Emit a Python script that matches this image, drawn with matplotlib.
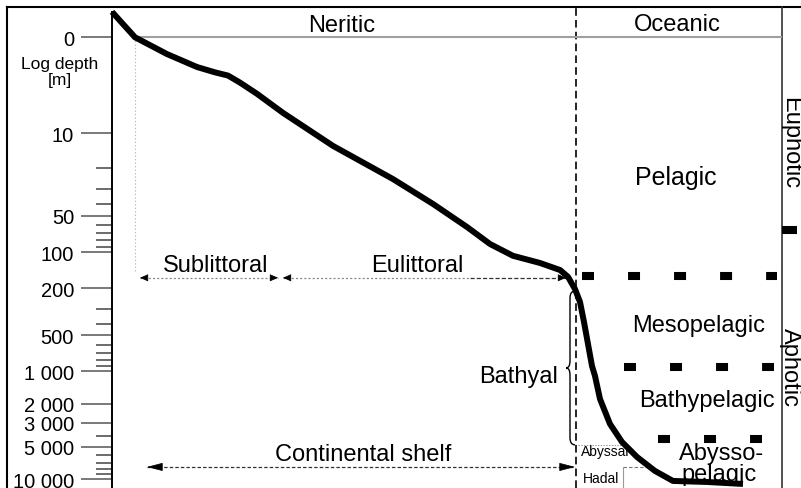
import numpy as np
import matplotlib.pyplot as plt
import matplotlib.transforms as mtransforms
from matplotlib.path import Path
from matplotlib.patches import PathPatch

plt.rcParams['font.family'] = ['Liberation Sans', 'DejaVu Sans']
plt.rcParams['lines.scale_dashes'] = False

# seabed profile: offshore distance (arbitrary units) vs depth in m (negative = above sea level)
profile_x = [112, 135, 167, 197, 215, 228, 240, 257, 283, 333, 393, 433, 467, 490, 513,
             540, 560, 568, 575, 580, 584, 592, 595, 600, 610, 622, 637, 655, 673, 707, 743]
profile_depth = [-0.47, 0, 0.52, 1.1, 1.4, 1.6, 2.1, 3.1, 5.6, 12.9, 24.8, 40, 62, 85.5, 107,
                 123, 141, 161, 204, 262, 386, 902, 1104, 1805, 3076, 4516, 6218, 8375,
                 10368, 10592, 11054]

tick_depths = [0, 10, 50, 100, 200, 500, 1000, 2000, 3000, 5000, 10000]
tick_labels = ['0', '10', '50', '100', '200', '500', '1 000', '2 000', '3 000', '5 000', '10 000']
minor_depths = [20, 30, 40, 60, 70, 80, 90, 300, 400, 600, 700, 800, 900,
                4000, 6000, 7000, 8000, 9000]

euphotic_limit = 66
pelagic_limits = [158, 920, 4230]
bathyal_range = (212, 4800)
littoral_depth = 164
shelf_arrow_depth = 7690
shelf_break_x = 576

# hand-drawn pseudo-log depth axis: piecewise linear in log10(d + 1)
L_KNOTS = np.log10(np.array([0, 10, 100, 1000, 10000]) + 1.0)
U_KNOTS = np.array([0, 0.807, 1.807, 2.807, 3.714])


def _interp(x, xp, fp):
    y = np.interp(x, xp, fp)
    lo = (fp[1] - fp[0]) / (xp[1] - xp[0])
    hi = (fp[-1] - fp[-2]) / (xp[-1] - xp[-2])
    y = np.where(x < xp[0], fp[0] + (x - xp[0]) * lo, y)
    return np.where(x > xp[-1], fp[-1] + (x - xp[-1]) * hi, y)


def fwd(d):
    lg = np.log10(np.maximum(np.asarray(d, float) + 1, 1e-9))
    return _interp(lg, L_KNOTS, U_KNOTS)


def inv(u):
    return 10 ** _interp(np.asarray(u, float), U_KNOTS, L_KNOTS) - 1


fig = plt.figure(figsize=(8.01, 4.89), dpi=100)
ax = fig.add_axes([0, 0, 1, 1])
ax.set_xlim(0, 801)
ax.set_yscale('function', functions=(fwd, inv))
y_bottom = float(inv(3.7874))
ax.set_ylim(y_bottom, float(inv(-0.3218)))

# text / frame placed in pixels from the top-left corner
TOP = mtransforms.Affine2D().scale(1 / 801, -1 / 489).translate(0, 1) + fig.transFigure

for s in ('top', 'right', 'bottom'):
    ax.spines[s].set_visible(False)
ax.xaxis.set_visible(False)
ax.spines['left'].set_position(('data', 112))
ax.spines['left'].set_bounds(y_bottom, profile_depth[0])
ax.spines['left'].set_linewidth(1.4)
ax.set_yticks(tick_depths, labels=tick_labels)
ax.set_yticks(minor_depths, minor=True)
ax.tick_params(axis='y', which='major', length=22.3, width=1.1, color='#555',
               pad=5, labelsize=14.5)
ax.tick_params(axis='y', which='minor', length=11.5, width=1.1, color='#444')

# frame
ax.plot([7, 7], [8, 489], color='k', lw=1.5, transform=TOP, clip_on=False)
ax.plot([7, 801], [8, 8], color='k', lw=1.5, transform=TOP, clip_on=False)
ax.plot([782, 782], [8, 489], color='#333', lw=1.2, transform=TOP)
ax.axvline(shelf_break_x, ymax=1 - 8 / 489, color='k', lw=1.2, ls=(0, (5.5, 3)))

# sea level
ax.hlines(0, 135, 782, color='#a0a0a0', lw=1.5)
ax.vlines(135, 0, 149, color='#bbbbbb', lw=0.8, ls=(0, (1, 1.5)))

# zone boundaries
for depth, x0, x1 in zip(pelagic_limits, [582, 624, 658], [777, 774, 762]):
    ax.hlines(depth, x0, x1, color='k', lw=5.8, linestyles=[(0, (8.64, 24.5))])
ax.hlines(euphotic_limit, 782, 797, color='k', lw=5.8)

# profile
ax.plot(profile_x, profile_depth, color='k', lw=4.3, solid_joinstyle='round',
        solid_capstyle='butt', zorder=5)


def heads(x0, x1, depth, hl, hw):
    for a, b in ((x0, x1), (x1, x0)):
        step = hl * 1.4 * (1 if b > a else -1)
        ax.annotate('', xy=(a, depth), xytext=(a + step, depth),
                    arrowprops=dict(arrowstyle=f'-|>,head_length={hl},head_width={hw}',
                                    color='k', lw=0.5, shrinkA=0, shrinkB=0,
                                    mutation_scale=1))


ax.plot([140, 278], [littoral_depth] * 2, color='#888', lw=0.9, ls=(0, (1.5, 1.5)))
heads(140, 278, littoral_depth, 5, 2.2)
ax.plot([283, 470], [littoral_depth] * 2, color='#888', lw=0.9, ls=(0, (1.5, 1.5)))
ax.plot([470, 566], [littoral_depth] * 2, color='#333', lw=0.9, ls=(0, (3, 1.5)))
heads(283, 566, littoral_depth, 5, 2.2)

ax.plot([147, 575], [shelf_arrow_depth] * 2, color='#333', lw=0.9, ls=(0, (2.5, 1.5)))
heads(147, 575, shelf_arrow_depth, 10, 2.6)

# abyssal / hadal helpers
ax.hlines(bathyal_range[1], 578, 622, color='#999', lw=0.8, linestyles=[(0, (1, 1))])
ax.vlines(623, shelf_arrow_depth, y_bottom, color='#999', lw=0.8)
ax.hlines(shelf_arrow_depth, 623, 648, color='#777', lw=0.8, linestyles=[(0, (2.5, 1.5))])

# bathyal brace
ut, ub = float(fwd(bathyal_range[0])), float(fwd(bathyal_range[1]))
um, e = (ut + ub) / 2, 0.06
bx, tip, end = 570, 566, 575
pts = [(end, ut), (bx, ut), (bx, ut + e), (bx, um - e), (bx, um), (tip, um),
       (bx, um), (bx, um + e), (bx, ub - e), (bx, ub), (end, ub)]
codes = [Path.MOVETO, Path.CURVE3, Path.CURVE3, Path.LINETO, Path.CURVE3, Path.CURVE3,
         Path.CURVE3, Path.CURVE3, Path.LINETO, Path.CURVE3, Path.CURVE3]
verts = [(x, float(inv(u))) for x, u in pts]
ax.add_patch(PathPatch(Path(verts, codes), fill=False, lw=1.0, edgecolor='k'))

# labels
big = dict(fontsize=17, transform=TOP, va='baseline')
ax.text(342, 32, 'Neritic', ha='center', **big)
ax.text(677, 31, 'Oceanic', ha='center', **big)
ax.text(676, 185, 'Pelagic', ha='center', fontsize=18, transform=TOP, va='baseline')
ax.text(699, 332, 'Mesopelagic', ha='center', **big)
ax.text(707, 407, 'Bathypelagic', ha='center', **big)
ax.text(722, 460, 'Abysso-', ha='center', **big)
ax.text(719, 481, 'pelagic', ha='center', **big)
ax.text(215.5, 272, 'Sublittoral', ha='center', **big)
ax.text(417, 272, 'Eulittoral', ha='center', **big)
ax.text(363, 461, 'Continental shelf', ha='center', **big)
ax.text(558, 383, 'Bathyal', ha='right', **big)
ax.text(581, 452, 'Abyssal', ha='left', va='center', fontsize=10, transform=TOP)
ax.text(583, 479, 'Hadal', ha='left', va='center', fontsize=10, transform=TOP)
ax.text(60, 57, 'Log depth\n[m]', ha='center', va='top', fontsize=12.5,
        linespacing=1.05, transform=TOP)
ax.text(779, 143, 'Euphotic', ha='left', va='center', rotation=-90, fontsize=17,
        transform=TOP)
ax.text(779, 367, 'Aphotic', ha='left', va='center', rotation=-90, fontsize=17,
        transform=TOP)

fig.savefig('out.png', dpi=100, facecolor='white')
